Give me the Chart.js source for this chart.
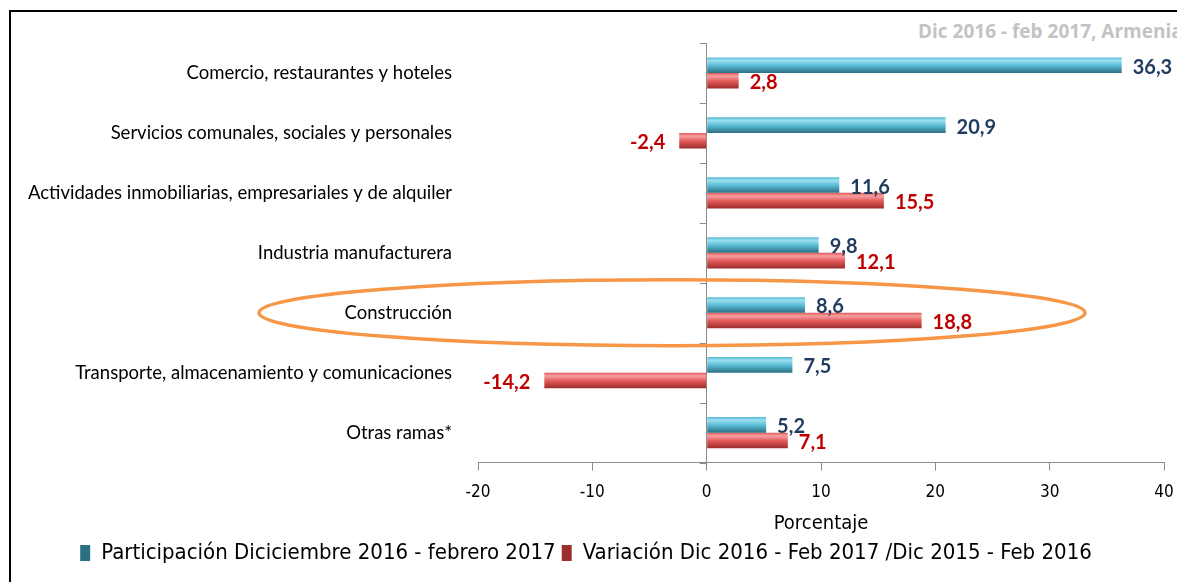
<!DOCTYPE html>
<html>
<head>
<meta charset="utf-8">
<script src="https://cdn.jsdelivr.net/npm/chart.js"></script>
<style>
  html, body { margin: 0; padding: 0; background: #fff; overflow: hidden; }
  body { width: 1177px; height: 582px; position: relative; }
  #frame { position: absolute; left: 9px; top: 10px; width: 1300px; height: 700px; border: 2px solid #000; box-sizing: border-box; }
  #wrap { position: absolute; left: 0; top: 0; width: 1177px; height: 582px; }
  #note { position: absolute; left: 918px; top: 18px; white-space: nowrap; font: bold 19px "Open Sans", sans-serif; color: #c3c3c3; }
</style>
</head>
<body>
<div id="frame"></div>
<div id="note">Dic 2016 - feb 2017, Armenia</div>
<div id="wrap"><canvas id="chart" width="1177" height="582"></canvas></div>
<script>
  const categories = [
    "Comercio, restaurantes y hoteles",
    "Servicios comunales, sociales y personales",
    "Actividades inmobiliarias, empresariales y de alquiler",
    "Industria manufacturera",
    "Construcción",
    "Transporte, almacenamiento y comunicaciones",
    "Otras ramas*"
  ];
  const participacion = [36.3, 20.9, 11.6, 9.8, 8.6, 7.5, 5.2];
  const variacion = [2.8, -2.4, 15.5, 12.1, 18.8, -14.2, 7.1];
  const seriesNames = [
    "Participación Diciciembre 2016 - febrero 2017",
    "Variación Dic 2016 - Feb 2017 /Dic 2015 - Feb 2016"
  ];
  const xTicks = [-20, -10, 0, 10, 20, 30, 40];
  const highlighted = "Construcción";

  const catPct = 0.52;
  const narrow = '"Liberation Sans Narrow", "DejaVu Sans Condensed", sans-serif';
  const blueStops = ["#9be0f2", "#56b8d2", "#2d6f82"];
  const redStops = ["#f7a0a0", "#e05555", "#9c2e2e"];

  // vertical 3D-ish gradient for each bar, placed from the category scale
  function barFill(stops) {
    return (c) => {
      const chart = c.chart;
      const y = chart.scales.y;
      if (!y || c.dataIndex === undefined || !chart.chartArea) return stops[1];
      const band = (y.bottom - y.top) / categories.length;
      const t = band * catPct / 2;
      const mid = y.getPixelForValue(c.dataIndex) + (c.datasetIndex === 0 ? -t / 2 : t / 2);
      const g = chart.ctx.createLinearGradient(0, mid - t / 2, 0, mid + t / 2);
      g.addColorStop(0, stops[1]);
      g.addColorStop(0.2, stops[0]);
      g.addColorStop(0.55, stops[1]);
      g.addColorStop(1, stops[2]);
      return g;
    };
  }

  const valueLabels = {
    id: "valueLabels",
    afterDatasetsDraw(chart) {
      const ctx = chart.ctx;
      ctx.save();
      ctx.font = "bold 20px Lato, sans-serif";
      ctx.textBaseline = "middle";
      chart.data.datasets.forEach((ds, di) => {
        ctx.fillStyle = di === 0 ? "#1f3b5e" : "#c00000";
        chart.getDatasetMeta(di).data.forEach((bar, i) => {
          const v = ds.data[i];
          const txt = v.toFixed(1).replace(".", ",");
          if (v >= 0) {
            ctx.textAlign = "left";
            ctx.fillText(txt, bar.x + 11, bar.y + 2);
          } else {
            ctx.textAlign = "right";
            ctx.fillText(txt, bar.x - 14, bar.y + 2);
          }
        });
      });
      ctx.restore();
    }
  };

  const axisMarks = {
    id: "axisMarks",
    afterDatasetsDraw(chart) {
      const ctx = chart.ctx;
      const x = chart.scales.x.getPixelForValue(0);
      const y = chart.scales.y;
      const band = (y.bottom - y.top) / categories.length;
      ctx.save();
      ctx.strokeStyle = "#8c8c8c";
      ctx.lineWidth = 1;
      for (let i = 0; i <= categories.length; i++) {
        const yy = Math.round(y.top + i * band) + 0.5;
        ctx.beginPath();
        ctx.moveTo(x - 7, yy);
        ctx.lineTo(x, yy);
        ctx.stroke();
      }
      ctx.restore();
    }
  };

  const ring = {
    id: "ring",
    afterDraw(chart) {
      const ctx = chart.ctx;
      const idx = categories.indexOf(highlighted);
      const cy = chart.scales.y.getPixelForValue(idx);
      ctx.save();
      ctx.strokeStyle = "#f79646";
      ctx.lineWidth = 3.5;
      ctx.beginPath();
      ctx.ellipse(672, cy, 413, 33, 0, 0, Math.PI * 2);
      ctx.stroke();
      ctx.restore();
    }
  };

  new Chart(document.getElementById("chart"), {
    type: "bar",
    data: {
      labels: categories,
      datasets: [
        { label: seriesNames[0], data: participacion, backgroundColor: barFill(blueStops), borderWidth: 0 },
        { label: seriesNames[1], data: variacion, backgroundColor: barFill(redStops), borderWidth: 0 }
      ]
    },
    options: {
      indexAxis: "y",
      responsive: false,
      animation: false,
      datasets: { bar: { categoryPercentage: catPct, barPercentage: 1 } },
      layout: { padding: { top: 43, left: 8, right: 13, bottom: 8 } },
      scales: {
        x: {
          min: -20,
          max: 40,
          afterBuildTicks: (s) => { s.ticks = xTicks.map((v) => ({ value: v })); },
          afterFit: (s) => { s.paddingLeft = 0; s.paddingRight = 0; },
          border: { display: true, color: "#8c8c8c", width: 1 },
          grid: {
            drawOnChartArea: true,
            color: (c) => (c.tick && c.tick.value === 0 ? "#8c8c8c" : "rgba(0,0,0,0)"),
            tickColor: "#8c8c8c",
            tickLength: 8
          },
          ticks: { color: "#000", padding: 12, font: { family: narrow, size: 17 } },
          title: {
            display: true,
            text: "Porcentaje",
            color: "#000",
            padding: { top: -3, bottom: 0 },
            font: { family: narrow, size: 20 }
          }
        },
        y: {
          position: "left",
          afterFit: (s) => { s.width = 470; },
          border: { display: false },
          grid: { display: false },
          ticks: { color: "#000", padding: 18, font: { family: "Lato, sans-serif", size: 18.5 } }
        }
      },
      plugins: {
        legend: {
          position: "bottom",
          labels: {
            color: "#000",
            boxWidth: 10,
            boxHeight: 16,
            padding: 6,
            font: { family: narrow, size: 22 }
          }
        },
        tooltip: { enabled: false }
      }
    },
    plugins: [axisMarks, valueLabels, ring]
  });
</script>
</body>
</html>
